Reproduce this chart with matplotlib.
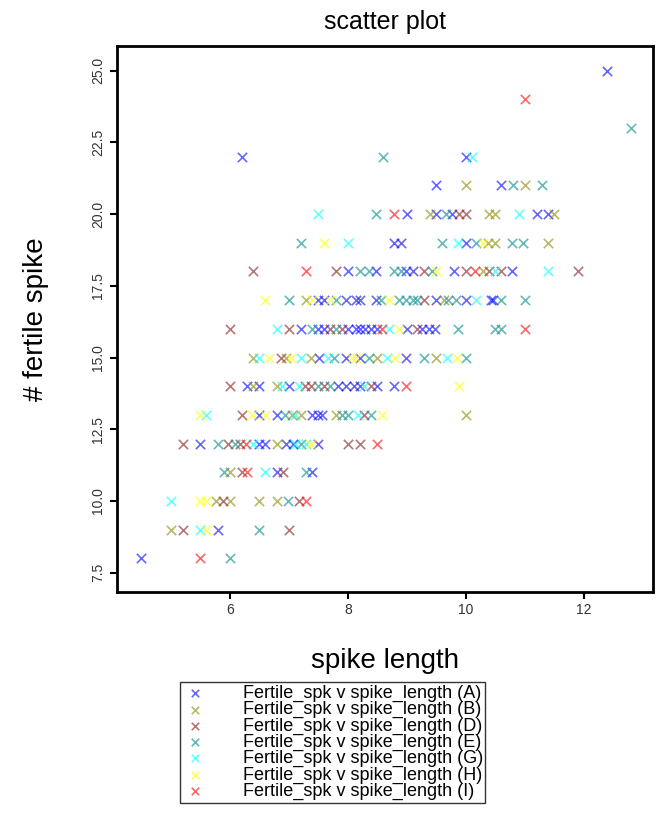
import matplotlib
matplotlib.use("Agg")
import matplotlib.pyplot as plt

plt.rcParams['font.family'] = ['Liberation Sans', 'DejaVu Sans']

# spike length / fertile spike per genome group
A_x = [12.4, 6.2, 10.0, 9.5, 10.6, 9.0, 9.5, 9.76, 11.2, 11.4, 8.78, 8.9, 10.0,
       8.0, 8.48, 8.98, 9.1, 9.8, 10.78, 7.5, 7.6, 7.97, 8.14, 8.2, 8.48, 9.5, 10.0, 10.43, 10.47,
       7.2, 7.5, 7.6, 8.0, 8.14, 8.2, 8.3, 8.4, 8.5, 9.0, 9.26, 9.37, 9.48,
       7.52, 7.97, 8.2, 8.98, 6.3, 6.5, 7.0, 7.83, 7.97, 8.1, 8.2, 8.5, 8.78,
       6.5, 6.8, 7.4, 7.5, 7.57, 5.5, 6.5, 6.6, 6.95, 7.07, 7.5, 6.8, 7.4, 5.8, 4.5]
A_y = [25, 22, 22, 21, 21, 20, 20, 20, 20, 20, 19, 19, 19,
       18, 18, 18, 18, 18, 18, 17, 17, 17, 17, 17, 17, 17, 17, 17, 17,
       16, 16, 16, 16, 16, 16, 16, 16, 16, 16, 16, 16, 16,
       15, 15, 15, 15, 14, 14, 14, 14, 14, 14, 14, 14, 14,
       13, 13, 13, 13, 13, 12, 12, 12, 12, 12, 12, 11, 11, 9, 8]

B_x = [10.0, 11.0, 9.4, 10.4, 10.5, 11.5, 10.38, 10.5, 11.4, 10.3, 7.3, 9.63,
       6.4, 6.95, 7.38, 8.5, 9.5, 6.4, 6.8, 7.06, 7.2, 7.8, 10.0, 6.8,
       6.0, 5.77, 6.0, 6.5, 6.8, 5.0]
B_y = [21, 21, 20, 20, 20, 20, 19, 19, 19, 18, 17, 17,
       15, 15, 15, 15, 15, 14, 14, 13, 13, 13, 13, 12,
       11, 10, 10, 10, 10, 9]

D_x = [9.88, 10.0, 6.4, 7.8, 9.3, 10.0, 10.4, 10.6, 11.9, 9.3, 6.0, 7.0, 7.7, 7.9,
       9.17, 6.87, 6.0, 7.27, 7.38, 7.6, 8.4, 6.2, 8.28, 5.2, 5.97, 6.17, 8.0, 8.2,
       6.2, 6.9, 5.88, 7.18, 5.2, 7.0]
D_y = [20, 20, 18, 18, 18, 18, 18, 18, 18, 17, 16, 16, 16, 16,
       16, 15, 14, 14, 14, 14, 14, 13, 13, 12, 12, 12, 12, 12,
       11, 11, 10, 10, 9, 9]

E_x = [12.8, 8.6, 10.8, 11.3, 8.48, 9.66, 7.2, 9.6, 10.17, 10.78, 10.97,
       8.2, 8.36, 8.78, 8.9, 9.43, 7.0, 7.8, 8.56, 8.87, 8.98, 9.1, 9.17, 9.7, 9.83, 10.6, 11.0,
       7.4, 7.8, 9.87, 10.5, 10.6, 7.77, 8.36, 9.3, 10.0, 7.5, 7.7,
       6.93, 7.9, 8.0, 8.4, 5.8, 6.08, 7.2, 5.9, 7.3, 6.98, 6.5, 6.0]
E_y = [23, 22, 21, 21, 20, 20, 19, 19, 19, 19, 19,
       18, 18, 18, 18, 18, 17, 17, 17, 17, 17, 17, 17, 17, 17, 17, 17,
       16, 16, 16, 16, 16, 15, 15, 15, 15, 14, 14,
       13, 13, 13, 13, 12, 12, 12, 11, 11, 10, 9, 8]

G_x = [10.1, 7.5, 10.9, 8.0, 9.87, 10.5, 11.4, 10.18, 6.8, 8.7, 6.5, 7.2, 7.66, 8.67, 9.68,
       6.88, 7.18, 8.28, 5.6, 7.1, 8.17, 6.4, 7.1, 7.3, 6.6, 5.0, 5.5]
G_y = [22, 20, 20, 19, 19, 18, 18, 17, 16, 16, 15, 15, 15, 15, 15,
       14, 14, 14, 13, 13, 13, 12, 12, 12, 11, 10, 9]

H_x = [7.6, 10.3, 9.5, 6.6, 7.4, 7.7, 8.7, 8.87, 6.67, 7.04, 8.14, 8.08, 8.8, 9.85,
       9.88, 5.5, 6.37, 6.6, 8.58, 7.37, 5.5, 5.6, 5.6]
H_y = [19, 19, 18, 17, 17, 17, 17, 16, 15, 15, 15, 15, 15, 15,
       14, 13, 13, 13, 13, 12, 10, 10, 9]

I_x = [11.0, 8.78, 7.3, 10.16, 8.58, 11.0, 8.98, 6.28, 8.5, 6.3, 7.3, 5.5]
I_y = [24, 20, 18, 18, 16, 16, 14, 12, 12, 11, 10, 8]

groups = ["A", "B", "D", "E", "G", "H", "I"]
xs = [A_x, B_x, D_x, E_x, G_x, H_x, I_x]
ys = [A_y, B_y, D_y, E_y, G_y, H_y, I_y]
colors = ["#0000FF", "#8B8B00", "#8B1A1A", "#008B8B", "#00FFFF", "#FFFF00", "#FF0000"]

fig = plt.figure(figsize=(6.6, 8.31), dpi=100)
ax = fig.add_axes([0.177, 0.288, 0.812, 0.657])

for g, x, y, c in zip(groups, xs, ys, colors):
    ax.scatter(x, y, marker="x", s=45, linewidths=1.2, color=c, alpha=0.6,
               label="Fertile_spk v spike_length (%s)" % g)

ax.set_xlim(4.085, 13.17)
ax.set_ylim(6.84, 25.87)
ax.set_xticks([6, 8, 10, 12])
ax.set_yticks([7.5, 10.0, 12.5, 15.0, 17.5, 20.0, 22.5, 25.0])
ax.set_yticklabels(["7.5", "10.0", "12.5", "15.0", "17.5", "20.0", "22.5", "25.0"],
                   rotation=90, va="center")
ax.tick_params(labelsize=10, labelcolor="#333333", direction="out", length=5, width=1.5)
for s in ax.spines.values():
    s.set_linewidth(2)

ax.set_title("scatter plot", fontsize=18, pad=12)
ax.set_xlabel("spike length", fontsize=20, labelpad=22)
ax.set_ylabel("# fertile spike", fontsize=20, labelpad=30)

fig.legend(loc="upper left", bbox_to_anchor=(0.272, 0.179), fontsize=13,
           frameon=True, fancybox=False, edgecolor="black", handlelength=1.47,
           handletextpad=1.87, labelspacing=-0.05, borderpad=0.15,
           borderaxespad=0, scatterpoints=1, markerscale=0.8)

plt.savefig("out.png", dpi=100)
